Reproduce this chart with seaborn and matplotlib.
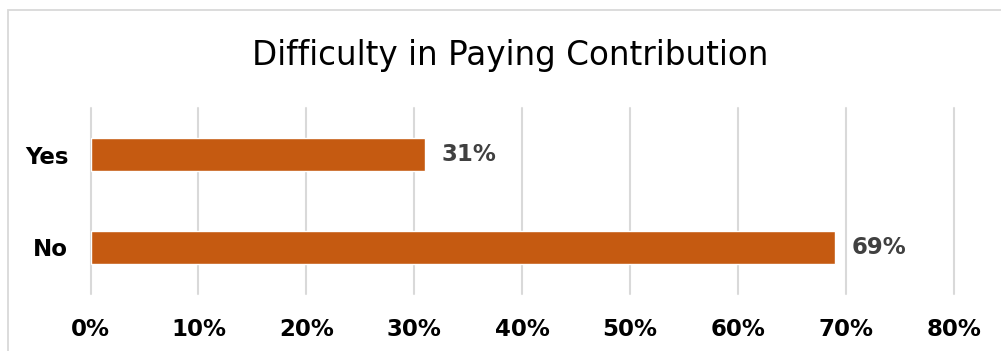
import matplotlib
matplotlib.use("Agg")
import matplotlib.pyplot as plt
from matplotlib.patches import Rectangle
from matplotlib.ticker import FuncFormatter
import seaborn as sns
import pandas as pd

# Survey answers and their shares (percent)
answers = ["Yes", "No"]
shares = [31, 69]
x_ticks = [0, 10, 20, 30, 40, 50, 60, 70, 80]
title = "Difficulty in Paying Contribution"

sns.set_theme(style="white")
plt.rcParams["font.family"] = ["DejaVu Sans"]

df = pd.DataFrame({"answer": answers, "share": shares})

fig = plt.figure(figsize=(10.01, 3.51), dpi=100)
W, H = 1001, 351

# light chart-area frame
fig.patches.append(Rectangle((8 / W, -0.05), 1.2, 1 - 10 / H + 0.05,
                             transform=fig.transFigure, fill=False,
                             edgecolor="#D9D9D9", linewidth=1.3))

ax = fig.add_axes([90.5 / W, 57 / H, (954 - 90.5) / W, (294 - 108) / H])
sns.barplot(data=df, x="share", y="answer", order=answers, color="#C55A11",
            saturation=1, width=0.355, orient="h", ax=ax)

ax.set_xlim(0, 80)
ax.set_ylim(1.5, -0.5)
ax.set_xticks(x_ticks)
ax.xaxis.set_major_formatter(FuncFormatter(lambda v, p: f"{v:.0f}%"))
ax.grid(axis="x", color="#D9D9D9", linewidth=1.5)
for gl in ax.get_xgridlines():
    gl.set_clip_on(False)
ax.set_axisbelow(True)
for s in ax.spines.values():
    s.set_visible(False)
ax.set_xlabel("")
ax.set_ylabel("")
ax.tick_params(axis="x", length=0, pad=17, labelsize=16.5, labelcolor="black")
ax.tick_params(axis="y", length=0, pad=16, labelsize=16.5, labelcolor="black")
for lbl in ax.get_xticklabels() + ax.get_yticklabels():
    lbl.set_fontweight("bold")

for cont in ax.containers:
    ax.bar_label(cont, labels=[f"{v:.0f}%" for v in cont.datavalues],
                 padding=12, fontsize=16.5, fontweight="bold", color="#404040")

fig.text(510 / W, 1 - 55 / H, title, ha="center", va="center",
         fontsize=23.5, color="black")

fig.savefig("out.png", dpi=100)
